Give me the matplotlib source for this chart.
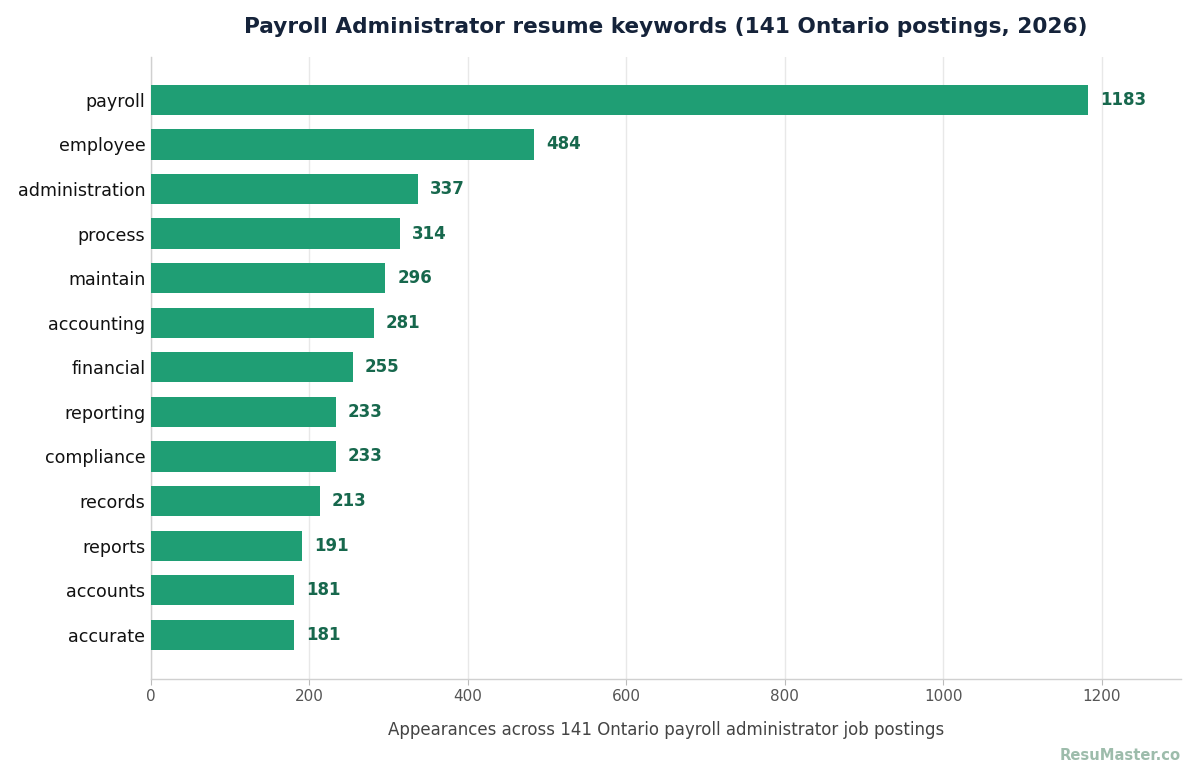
import matplotlib
matplotlib.use("Agg")
import matplotlib.pyplot as plt

plt.rcParams['font.family'] = ['DejaVu Sans']

# keyword counts
keywords = ['payroll', 'employee', 'administration', 'process', 'maintain',
            'accounting', 'financial', 'reporting', 'compliance', 'records',
            'reports', 'accounts', 'accurate']
counts = [1183, 484, 337, 314, 296, 281, 255, 233, 233, 213, 191, 181, 181]
x_ticks = [0, 200, 400, 600, 800, 1000, 1200]

bar_color = '#1f9e74'
label_color = '#17684d'

fig = plt.figure(figsize=(12, 7.8), dpi=100)
ax = fig.add_axes([0.1258, 0.1295, 0.8582, 0.7975])

pos = list(range(len(keywords)))
ax.barh(pos, counts, height=0.68, color=bar_color, zorder=3)

for p, c in zip(pos, counts):
    ax.annotate(str(c), xy=(c, p), xytext=(8.5, 0), textcoords='offset points',
                ha='left', va='center', fontsize=12, fontweight='bold',
                color=label_color)

ax.set_yticks(pos)
ax.set_yticklabels(keywords, fontsize=12.6, color='#111111')
ax.set_ylim(12.99, -0.96)
ax.set_xlim(0, 1300)
ax.set_xticks(x_ticks)
ax.tick_params(axis='x', labelsize=11, colors='#555555', length=4, color='#bbbbbb')
ax.tick_params(axis='y', length=0, pad=4)

ax.grid(axis='x', color='#e8e8e8', linewidth=1, zorder=0)
ax.set_axisbelow(True)
for side in ['top', 'right']:
    ax.spines[side].set_visible(False)
for side in ['left', 'bottom']:
    ax.spines[side].set_color('#d0d0d0')
    ax.spines[side].set_linewidth(1)

ax.set_xlabel('Appearances across 141 Ontario payroll administrator job postings',
              fontsize=12, color='#444444', labelpad=12)

fig.text(0.555, 0.965, 'Payroll Administrator resume keywords (141 Ontario postings, 2026)',
         ha='center', va='center', fontsize=15.6, fontweight='bold', color='#15233a')

fig.text(0.984, 0.031, 'ResuMaster.co', ha='right', va='center', fontsize=10.6,
         fontweight='bold', color='#9dbcab')

fig.savefig('out.png', dpi=100)
